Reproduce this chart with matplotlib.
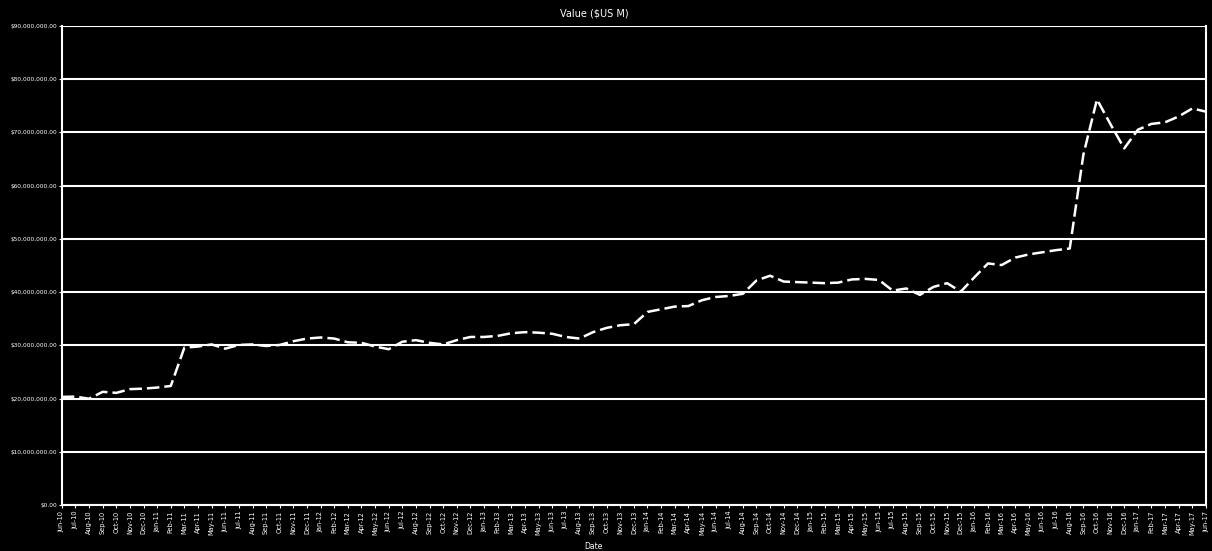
import matplotlib.pyplot as plt
import matplotlib.ticker as mticker
import pandas as pd

# monthly values, $US M
values = [20.35, 20.4, 20.0, 21.3, 21.1, 21.8, 21.9, 22.1, 22.4, 29.6,
          29.8, 30.2, 29.4, 30.1, 30.2, 29.9, 30.1, 30.8, 31.3, 31.5,
          31.3, 30.6, 30.5, 29.8, 29.3, 30.7, 31.0, 30.5, 30.2, 31.0,
          31.6, 31.6, 31.8, 32.3, 32.5, 32.4, 32.2, 31.6, 31.3, 32.5,
          33.3, 33.8, 34.0, 36.3, 36.8, 37.3, 37.4, 38.5, 39.1, 39.3,
          39.7, 42.2, 43.1, 42.0, 41.9, 41.8, 41.7, 41.8, 42.4, 42.5,
          42.3, 40.3, 40.7, 39.5, 41.0, 41.7, 40.1, 42.8, 45.4, 45.1,
          46.5, 47.1, 47.5, 47.9, 48.2, 65.8, 76.2, 71.5, 67.0, 70.5,
          71.6, 71.9, 73.0, 74.5, 73.9]

months = pd.date_range("2010-06-01", periods=len(values), freq="MS")
labels = [m.strftime("%b-%y") for m in months]

yticks = [0, 10, 20, 30, 40, 50, 60, 70, 80, 90]

fig = plt.figure(figsize=(12.12, 5.51), dpi=100, facecolor="black")
ax = fig.add_axes([0.051, 0.083, 0.944, 0.87], facecolor="black")

x = range(len(values))
ax.plot(x, values, color="white", lw=1.8, dashes=(5, 2))

ax.set_xlim(0, len(values) - 1)
ax.set_ylim(0, 90)
ax.set_yticks(yticks)
ax.yaxis.set_major_formatter(mticker.FuncFormatter(lambda v, p: "${:,.2f}".format(v * 1e6)))
ax.set_xticks(list(x))
ax.set_xticklabels(labels, rotation=90, fontsize=4.8, color="white")
ax.tick_params(axis="y", labelsize=4.2, colors="white", length=2, pad=1.5)
ax.tick_params(axis="x", colors="white", length=2, pad=2)

ax.grid(axis="y", color="white", lw=1.5)
ax.set_axisbelow(True)
for side in ["left", "bottom", "right"]:
    ax.spines[side].set_color("white")
    ax.spines[side].set_linewidth(1.5)
ax.spines["top"].set_visible(False)

fig.text(0.49, 0.975, "Value ($US M)", color="white", fontsize=7, ha="center", va="center")
fig.text(0.49, 0.008, "Date", color="white", fontsize=5.5, ha="center", va="center")

plt.savefig("out.png", dpi=100, facecolor="black")
